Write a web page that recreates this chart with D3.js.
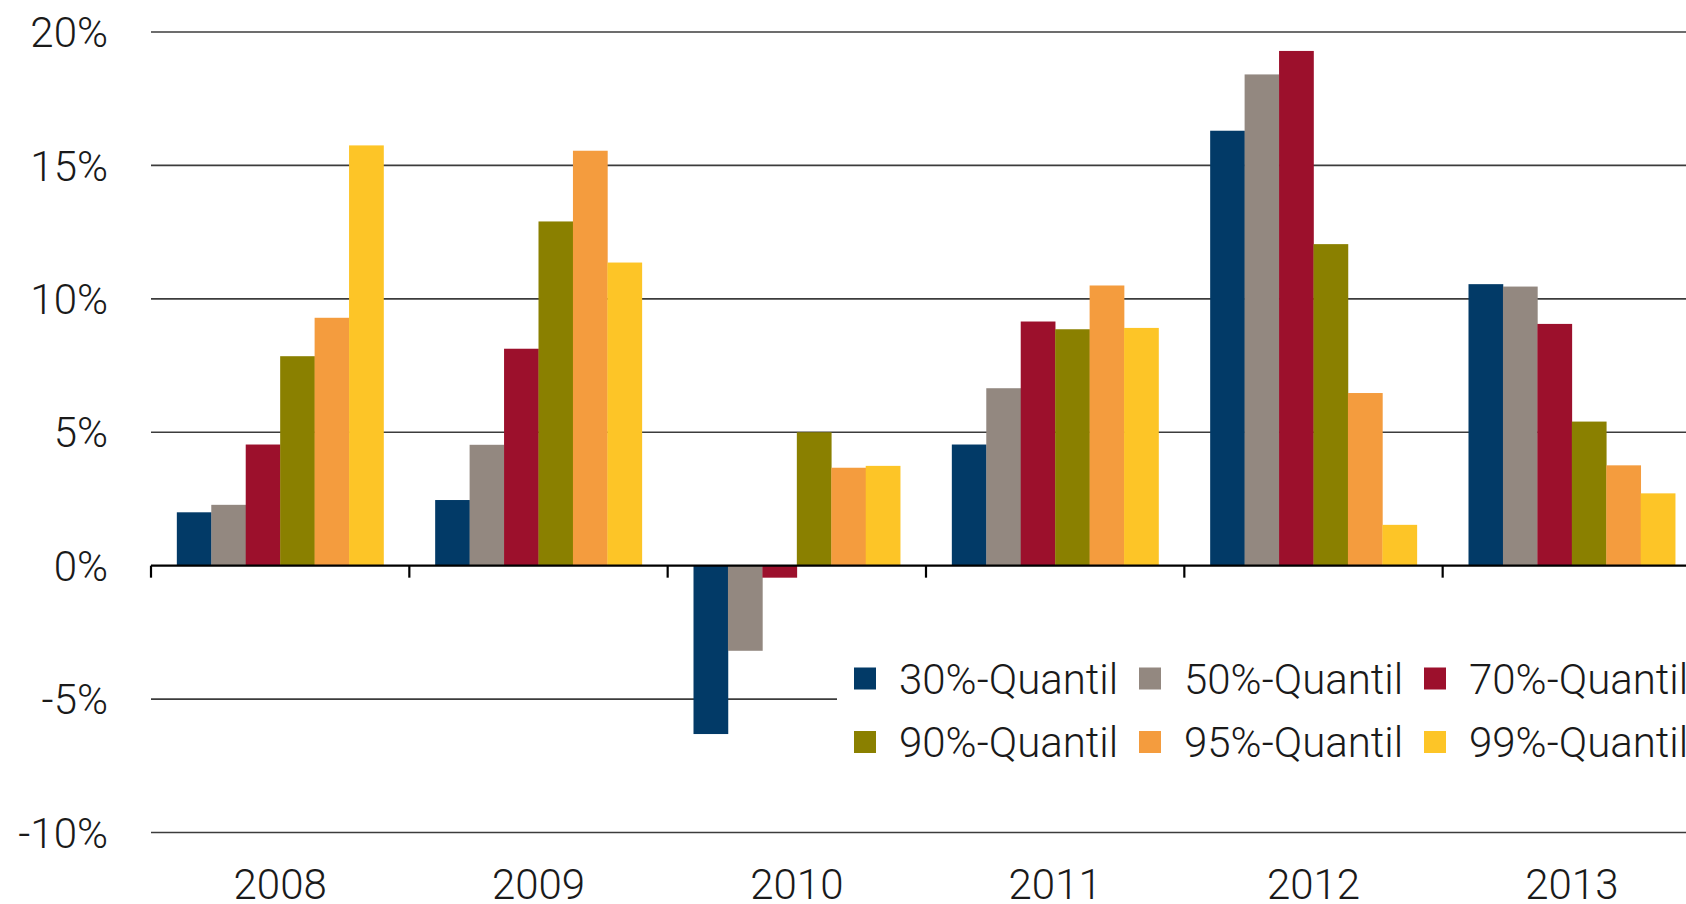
<!DOCTYPE html>
<html>
<head>
<meta charset="utf-8">
<script src="https://cdn.jsdelivr.net/npm/d3@7"></script>
<style>
  html, body { margin: 0; padding: 0; background: #fff; overflow: hidden; }
  svg { display: block; }
  text { font-family: "Roboto", "Liberation Sans", sans-serif; font-weight: 300; fill: #1a1a1a; }
</style>
</head>
<body>
<svg id="chart" width="1686" height="904"></svg>
<script>
const years = ["2008", "2009", "2010", "2011", "2012", "2013"];
const seriesNames = ["30%-Quantil", "50%-Quantil", "70%-Quantil", "90%-Quantil", "95%-Quantil", "99%-Quantil"];
const q30 = [2.0, 2.46, -6.31, 4.54, 16.3, 10.55];
const q50 = [2.28, 4.53, -3.19, 6.65, 18.41, 10.46];
const q70 = [4.54, 8.13, -0.45, 9.15, 19.29, 9.06];
const q90 = [7.85, 12.9, 5.0, 8.86, 12.05, 5.4];
const q95 = [9.29, 15.55, 3.67, 10.5, 6.47, 3.76];
const q99 = [15.75, 11.36, 3.74, 8.91, 1.53, 2.71];
const colors = ["#023a67", "#938880", "#9c102c", "#8a8000", "#f49c3e", "#fdc527"];
const yTicks = [-10, -5, 0, 5, 10, 15, 20];

const seriesValues = [q30, q50, q70, q90, q95, q99];

const svg = d3.select("#chart");
const W = 1686, H = 904;
const left = 151, plotRight = 1701;

const x = d3.scaleBand().domain(years).range([left, plotRight]).padding(0);
const bw = x.bandwidth();
const xs = d3.scaleBand().domain(seriesNames).range([bw * 0.1, bw * 0.9]).padding(0);
const y = d3.scaleLinear().domain([-10, 20]).range([832.5, 32]);

// gridlines
svg.append("g").selectAll("line").data(yTicks.filter(d => d !== 0)).join("line")
  .attr("x1", left).attr("x2", W)
  .attr("y1", d => y(d)).attr("y2", d => y(d))
  .attr("stroke", "#3c3c3c").attr("stroke-width", 1.6);

// y labels
svg.append("g").selectAll("text").data(yTicks).join("text")
  .attr("x", 108).attr("y", d => y(d)).attr("dy", "0.36em")
  .attr("text-anchor", "end").attr("font-size", 42)
  .text(d => d + "%");

// bars
const rows = [];
seriesValues.forEach((vals, si) => {
  vals.forEach((v, yi) => rows.push({ year: years[yi], s: seriesNames[si], si, v }));
});
svg.append("g").selectAll("rect").data(rows).join("rect")
  .attr("x", d => x(d.year) + xs(d.s))
  .attr("width", xs.bandwidth() + 0.3)
  .attr("y", d => y(Math.max(0, d.v)))
  .attr("height", d => Math.abs(y(d.v) - y(0)))
  .attr("fill", d => colors[d.si]);

// zero axis line and ticks
svg.append("line").attr("x1", left).attr("x2", W).attr("y1", y(0)).attr("y2", y(0))
  .attr("stroke", "#000").attr("stroke-width", 2.2);
svg.append("g").selectAll("line").data(years).join("line")
  .attr("x1", d => x(d)).attr("x2", d => x(d))
  .attr("y1", y(0)).attr("y2", y(0) + 12)
  .attr("stroke", "#000").attr("stroke-width", 2.2);

// x labels
svg.append("g").selectAll("text").data(years).join("text")
  .attr("x", d => x(d) + bw / 2).attr("y", 899)
  .attr("text-anchor", "middle").attr("font-size", 42)
  .text(d => d);

// legend
const lg = svg.append("g");
lg.append("rect").attr("x", 837).attr("y", 640).attr("width", W - 837).attr("height", 140).attr("fill", "#fff");
const items = lg.selectAll("g").data(seriesNames).join("g")
  .attr("transform", (d, i) => `translate(${854 + (i % 3) * 285},${678.5 + Math.floor(i / 3) * 63.5})`);
items.append("rect").attr("x", 0).attr("y", -11).attr("width", 22).attr("height", 22)
  .attr("fill", (d, i) => colors[i]);
items.append("text").attr("x", 45).attr("y", 0).attr("dy", "0.36em")
  .attr("font-size", 42).text(d => d);
</script>
</body>
</html>
